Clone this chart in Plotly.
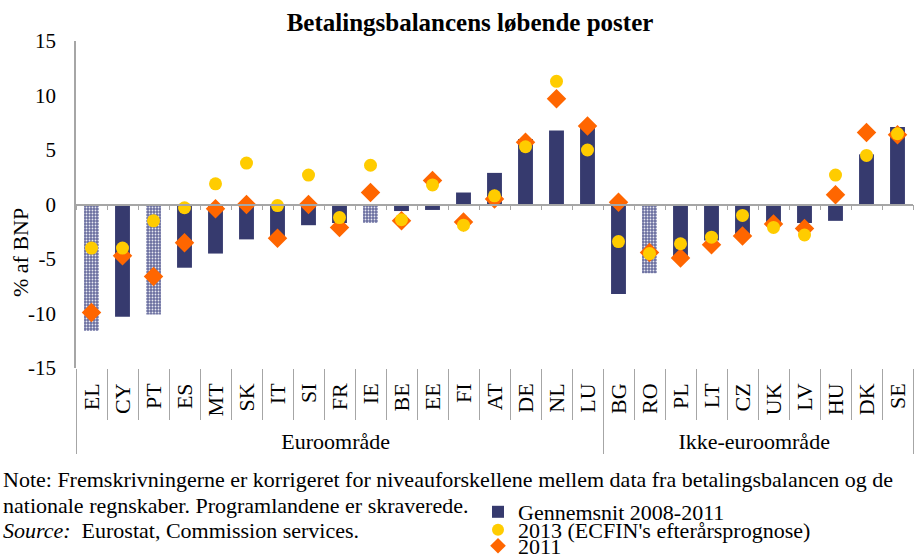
import plotly.graph_objects as go

countries = ["EL", "CY", "PT", "ES", "MT", "SK", "IT", "SI", "FR", "IE", "BE", "EE", "FI", "AT",
             "DE", "NL", "LU", "BG", "RO", "PL", "LT", "CZ", "UK", "LV", "HU", "DK", "SE"]
groups = ["Euroområde"] * 17 + ["Ikke-euroområde"] * 10
programme_countries = ["EL", "PT", "IE", "RO"]

avg_2008_2011 = [-11.6, -10.3, -10.1, -5.8, -4.5, -3.2, -2.9, -1.9, -1.7, -1.7, -0.6, -0.5, 1.1, 2.9,
                 6.0, 6.8, 7.1, -8.2, -6.3, -5.1, -3.3, -2.7, -1.7, -1.7, -1.5, 4.6, 7.1]
forecast_2013 = [-4.0, -4.0, -1.5, -0.3, 1.9, 3.8, -0.1, 2.7, -1.2, 3.6, -1.4, 1.8, -1.9, 0.8,
                 5.3, 11.3, 5.0, -3.4, -4.5, -3.6, -3.0, -1.0, -2.1, -2.8, 2.7, 4.5, 6.5]
actual_2011 = [-9.9, -4.7, -6.6, -3.5, -0.4, 0.0, -3.1, 0.0, -2.1, 1.1, -1.5, 2.2, -1.6, 0.5,
               5.7, 9.7, 7.2, 0.2, -4.4, -4.9, -3.7, -2.9, -1.8, -2.2, 0.9, 6.6, 6.4]

y_tick_vals = [-15, -10, -5, 0, 5, 10, 15]
y_tick_text = ["-15", "-10", "-5", "0", "5", "10", "15"]

NAVY = "#363a6e"
YELLOW = "#ffcc00"
ORANGE = "#ff6600"
AXIS_GREY = "#a6a6a6"
FONT = "Liberation Serif"

x_multi = [groups, countries]
solid_vals = [v if c not in programme_countries else None for c, v in zip(countries, avg_2008_2011)]
hatched_vals = [v if c in programme_countries else None for c, v in zip(countries, avg_2008_2011)]

fig = go.Figure()
fig.add_trace(go.Bar(x=x_multi, y=solid_vals, name="Gennemsnit 2008-2011",
                     marker=dict(color=NAVY, line=dict(width=0)), width=0.48,
                     legend="legend"))
fig.add_trace(go.Bar(x=x_multi, y=hatched_vals, name="Gennemsnit 2008-2011 (programlande)",
                     marker=dict(color="#7a7eab", line=dict(width=0),
                                 pattern=dict(shape=".", fgcolor="#e8e9f2", bgcolor="#6a6e9f",
                                              size=3, solidity=0.3, fillmode="replace")),
                     width=0.48, showlegend=False))
fig.add_trace(go.Scatter(x=x_multi, y=actual_2011, mode="markers", name="2011",
                         marker=dict(symbol="diamond", size=15, color=ORANGE, line=dict(width=0)),
                         legend="legend3"))
fig.add_trace(go.Scatter(x=x_multi, y=forecast_2013, mode="markers",
                         name="2013 (ECFIN's efterårsprognose)",
                         marker=dict(symbol="circle", size=13, color=YELLOW, line=dict(width=0)),
                         legend="legend2"))
# helper traces so that the overlay axes (zero line with ticks, category separators) are drawn
n = len(countries)
fig.add_trace(go.Scatter(x=[None], y=[None], xaxis="x2", yaxis="y", showlegend=False, hoverinfo="skip"))
fig.add_trace(go.Scatter(x=[None], y=[None], xaxis="x3", yaxis="y", showlegend=False, hoverinfo="skip"))

boundaries = [i + 0.5 for i in range(-1, n)]
inner_bounds = [i + 0.5 for i in range(0, n - 1)]

W, H = 923, 558
PLOT_L, PLOT_R, PLOT_T, PLOT_B = 76, 913, 41, 368   # target plot area in window pixels
PLOT_W = PLOT_R - PLOT_L
PLOT_H = PLOT_B - PLOT_T


def py(v):
    """window pixel y -> paper coordinate"""
    return (PLOT_B - v) / PLOT_H


def px(v):
    """window pixel x -> paper coordinate"""
    return (v - PLOT_L) / PLOT_W


legend_common = dict(x=px(478), xanchor="left", yanchor="middle", bgcolor="rgba(0,0,0,0)",
                     font=dict(family=FONT, size=22), itemwidth=30, itemsizing="constant")

fig.update_layout(
    width=W, height=H,
    margin=dict(l=PLOT_L, r=W - PLOT_R, t=PLOT_T, b=H - PLOT_B, autoexpand=False),
    paper_bgcolor="white", plot_bgcolor="white",
    barmode="overlay",
    font=dict(family=FONT, size=20, color="black"),
    title=dict(text="<b>Betalingsbalancens løbende poster</b>", x=470 / W, xanchor="center",
               y=1 - 22 / H, yanchor="middle", font=dict(family=FONT, size=25, color="black")),
    xaxis=dict(type="multicategory", showline=False, ticks="", tickangle=-90,
               showdividers=True, dividercolor=AXIS_GREY, dividerwidth=1,
               ticklabelstandoff=10,
               tickfont=dict(family=FONT, size=22, color="black"),
               range=[-0.5, n - 0.5], showgrid=False, zeroline=False),
    xaxis2=dict(overlaying="x", anchor="free", position=0.5, range=[-0.5, n - 0.5],
                showline=True, linecolor=AXIS_GREY, linewidth=1.5, ticks="outside",
                ticklen=5, tickcolor=AXIS_GREY, tickmode="array", tickvals=boundaries,
                showticklabels=False, showgrid=False, zeroline=False),
    xaxis3=dict(overlaying="x", anchor="y", side="bottom", range=[-0.5, n - 0.5],
                showline=False, ticks="outside", ticklen=51, tickcolor=AXIS_GREY,
                tickmode="array", tickvals=inner_bounds, showticklabels=False,
                showgrid=False, zeroline=False),
    yaxis=dict(range=[-15, 15], tickmode="array", tickvals=y_tick_vals, ticktext=y_tick_text,
               showline=True, linecolor=AXIS_GREY,
               linewidth=1.5, ticks="", showgrid=False, zeroline=False,
               ticklabelstandoff=14, tickfont=dict(family=FONT, size=21, color="black")),
    legend=dict(y=py(512), **legend_common),
    legend2=dict(y=py(530), **legend_common),
    legend3=dict(y=py(546), **legend_common),
)

fig.add_annotation(text="% af BNP", textangle=-90, xref="paper", yref="paper",
                   x=px(20), y=py(253), xanchor="center", yanchor="middle",
                   showarrow=False, font=dict(family=FONT, size=22))
note_font = dict(family=FONT, size=22)
fig.add_annotation(text="Note: Fremskrivningerne er korrigeret for niveauforskellene mellem data fra betalingsbalancen og de",
                   xref="paper", yref="paper", x=px(1), y=py(479),
                   xanchor="left", yanchor="middle", showarrow=False, font=note_font)
fig.add_annotation(text="nationale regnskaber. Programlandene er skraverede.",
                   xref="paper", yref="paper", x=px(1), y=py(505),
                   xanchor="left", yanchor="middle", showarrow=False, font=note_font)
fig.add_annotation(text="<i>Source:</i>  Eurostat, Commission services.",
                   xref="paper", yref="paper", x=px(1), y=py(530),
                   xanchor="left", yanchor="middle", showarrow=False, font=note_font)

# remove the browser's default 8px body margin so the figure fills the window exactly
fig.write_html("out.html", config={"displayModeBar": False},
               post_script="document.body.style.margin='0px';")
